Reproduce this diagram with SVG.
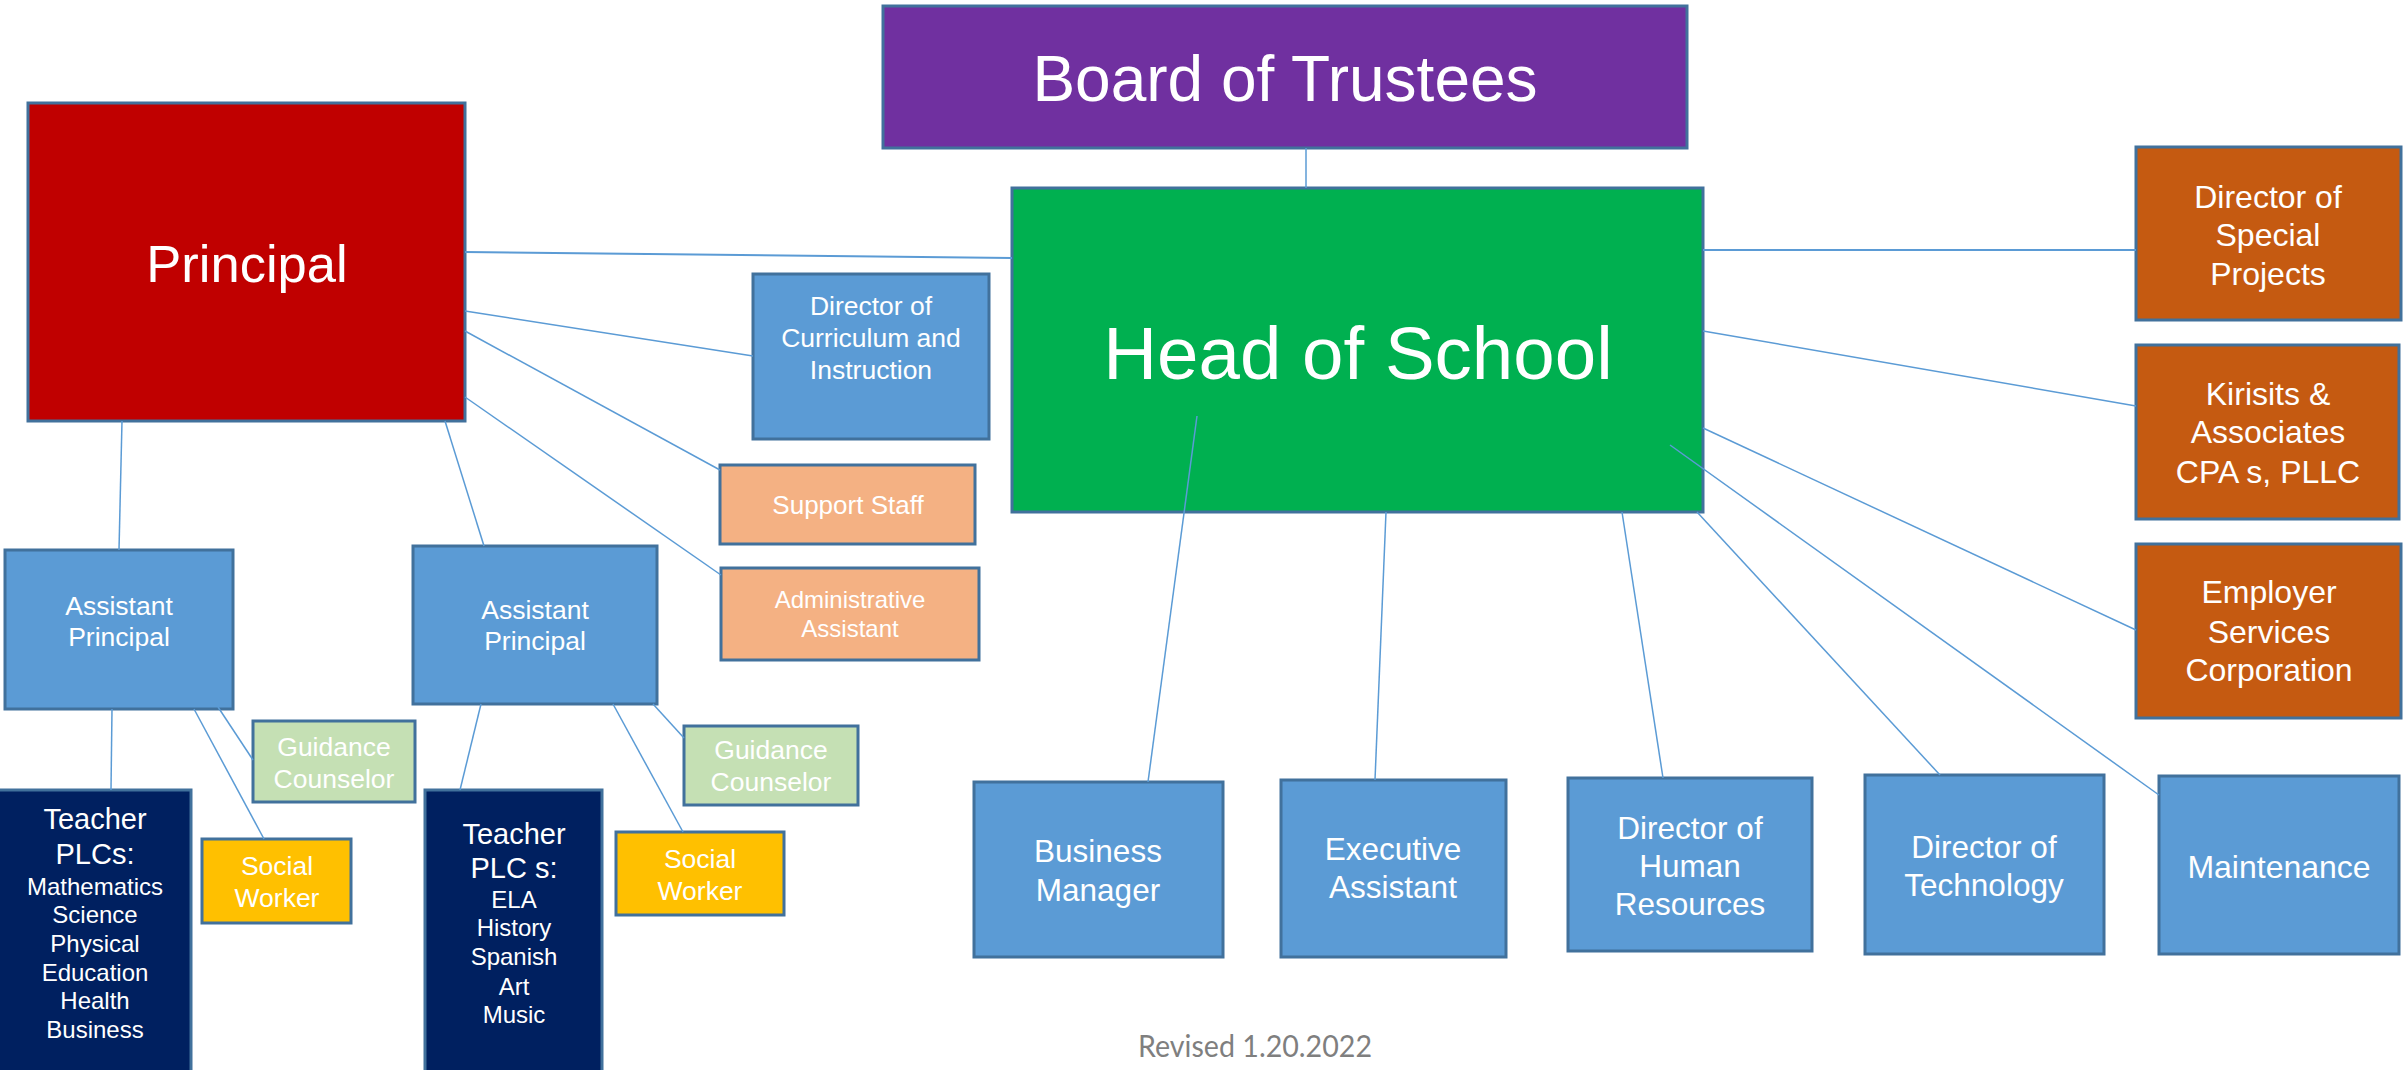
<svg xmlns="http://www.w3.org/2000/svg" width="2407" height="1070" viewBox="0 0 2407 1070">
<style>
  .box { stroke: #41719C; stroke-width: 3; }
  .t { font-family: "Liberation Sans", Arial, sans-serif; fill: #FFFFFF; text-anchor: middle; }
  .conn line { stroke: #5B9BD5; stroke-width: 1.5; fill: none; }
  .purple { fill: #7030A0; }
  .red { fill: #C00000; }
  .green { fill: #00B050; }
  .blue { fill: #5B9BD5; }
  .orange { fill: #C55A11; }
  .peach { fill: #F4B183; }
  .lgreen { fill: #C5E0B4; }
  .gold { fill: #FFC000; }
  .navy { fill: #002060; }
</style>
<rect width="2407" height="1070" fill="#FFFFFF"/>

<g id="board">
  <rect class="box purple" x="883" y="6" width="804" height="142"/>
  <text class="t" x="1285" y="101" font-size="64">Board of Trustees</text>
</g>

<g id="principal">
  <rect class="box red" x="28" y="103" width="437" height="318"/>
  <text class="t" x="247" y="282" font-size="52.5">Principal</text>
</g>

<g id="head-of-school">
  <rect class="box green" x="1012" y="188" width="691" height="324"/>
  <text class="t" x="1358" y="379" font-size="74.5">Head of School</text>
</g>

<g id="director-curriculum">
  <rect class="box blue" x="753" y="274" width="236" height="165"/>
  <text class="t" font-size="26.5"><tspan x="871" y="315">Director of</tspan><tspan x="871" y="347">Curriculum and</tspan><tspan x="871" y="379">Instruction</tspan></text>
</g>

<g id="support-staff">
  <rect class="box peach" x="720" y="465" width="255" height="79"/>
  <text class="t" x="848" y="514" font-size="26">Support Staff</text>
</g>

<g id="administrative-assistant">
  <rect class="box peach" x="721" y="568" width="258" height="92"/>
  <text class="t" font-size="24"><tspan x="850" y="608">Administrative</tspan><tspan x="850" y="637">Assistant</tspan></text>
</g>

<g id="assistant-principal-1">
  <rect class="box blue" x="5" y="550" width="228" height="159"/>
  <text class="t" font-size="26.5"><tspan x="119" y="615">Assistant</tspan><tspan x="119" y="646">Principal</tspan></text>
</g>

<g id="assistant-principal-2">
  <rect class="box blue" x="413" y="546" width="244" height="158"/>
  <text class="t" font-size="26.5"><tspan x="535" y="619">Assistant</tspan><tspan x="535" y="650">Principal</tspan></text>
</g>

<g id="teacher-plcs-1">
  <rect class="box navy" x="-2" y="790" width="193" height="290"/>
  <text class="t" font-size="29"><tspan x="95" y="829">Teacher</tspan><tspan x="95" y="864">PLCs:</tspan></text>
  <text class="t" font-size="24"><tspan x="95" y="895">Mathematics</tspan><tspan x="95" y="923">Science</tspan><tspan x="95" y="952">Physical</tspan><tspan x="95" y="981">Education</tspan><tspan x="95" y="1009">Health</tspan><tspan x="95" y="1038">Business</tspan></text>
</g>

<g id="teacher-plcs-2">
  <rect class="box navy" x="425" y="790" width="177" height="290"/>
  <text class="t" font-size="29"><tspan x="514" y="844">Teacher</tspan><tspan x="514" y="878">PLC s:</tspan></text>
  <text class="t" font-size="24"><tspan x="514" y="908">ELA</tspan><tspan x="514" y="936">History</tspan><tspan x="514" y="965">Spanish</tspan><tspan x="514" y="995">Art</tspan><tspan x="514" y="1023">Music</tspan></text>
</g>

<g id="guidance-counselor-1">
  <rect class="box lgreen" x="253" y="721" width="162" height="81"/>
  <text class="t" font-size="26.5"><tspan x="334" y="756">Guidance</tspan><tspan x="334" y="788">Counselor</tspan></text>
</g>

<g id="social-worker-1">
  <rect class="box gold" x="202" y="839" width="149" height="84"/>
  <text class="t" font-size="26.5"><tspan x="277" y="875">Social</tspan><tspan x="277" y="907">Worker</tspan></text>
</g>

<g id="guidance-counselor-2">
  <rect class="box lgreen" x="684" y="726" width="174" height="79"/>
  <text class="t" font-size="26.5"><tspan x="771" y="759">Guidance</tspan><tspan x="771" y="791">Counselor</tspan></text>
</g>

<g id="social-worker-2">
  <rect class="box gold" x="616" y="832" width="168" height="83"/>
  <text class="t" font-size="26.5"><tspan x="700" y="868">Social</tspan><tspan x="700" y="900">Worker</tspan></text>
</g>

<g id="director-special-projects">
  <rect class="box orange" x="2136" y="147" width="265" height="173"/>
  <text class="t" font-size="32"><tspan x="2268" y="208">Director of</tspan><tspan x="2268" y="246">Special</tspan><tspan x="2268" y="285">Projects</tspan></text>
</g>

<g id="kirisits">
  <rect class="box orange" x="2136" y="345" width="263" height="174"/>
  <text class="t" font-size="32"><tspan x="2268" y="405">Kirisits &amp;</tspan><tspan x="2268" y="443">Associates</tspan><tspan x="2268" y="483">CPA s, PLLC</tspan></text>
</g>

<g id="employer-services">
  <rect class="box orange" x="2136" y="544" width="265" height="174"/>
  <text class="t" font-size="32"><tspan x="2269" y="603">Employer</tspan><tspan x="2269" y="643">Services</tspan><tspan x="2269" y="681">Corporation</tspan></text>
</g>

<g id="business-manager">
  <rect class="box blue" x="974" y="782" width="249" height="175"/>
  <text class="t" font-size="31.5"><tspan x="1098" y="862">Business</tspan><tspan x="1098" y="901">Manager</tspan></text>
</g>

<g id="executive-assistant">
  <rect class="box blue" x="1281" y="780" width="225" height="177"/>
  <text class="t" font-size="31.5"><tspan x="1393" y="860">Executive</tspan><tspan x="1393" y="898">Assistant</tspan></text>
</g>

<g id="director-hr">
  <rect class="box blue" x="1568" y="778" width="244" height="173"/>
  <text class="t" font-size="31.5"><tspan x="1690" y="839">Director of</tspan><tspan x="1690" y="877">Human</tspan><tspan x="1690" y="915">Resources</tspan></text>
</g>

<g id="director-technology">
  <rect class="box blue" x="1865" y="775" width="239" height="179"/>
  <text class="t" font-size="31.5"><tspan x="1984" y="858">Director of</tspan><tspan x="1984" y="896">Technology</tspan></text>
</g>

<g id="maintenance">
  <rect class="box blue" x="2159" y="776" width="240" height="178"/>
  <text class="t" x="2279" y="878" font-size="32">Maintenance</text>
</g>

<g id="connectors" class="conn">
  <line x1="1306" y1="148" x2="1306" y2="188"/>
  <line x1="465" y1="252" x2="1012" y2="258" style="stroke-width:2"/>
  <line x1="465" y1="311" x2="753" y2="356"/>
  <line x1="465" y1="331" x2="720" y2="470"/>
  <line x1="465" y1="397" x2="721" y2="575"/>
  <line x1="122" y1="421" x2="119" y2="550"/>
  <line x1="445" y1="421" x2="484" y2="546"/>
  <line x1="112" y1="709" x2="111" y2="790"/>
  <line x1="218" y1="707" x2="253" y2="760"/>
  <line x1="194" y1="709" x2="264" y2="839"/>
  <line x1="481" y1="704" x2="460" y2="790"/>
  <line x1="653" y1="704" x2="684" y2="738"/>
  <line x1="613" y1="704" x2="683" y2="832"/>
  <line x1="1703" y1="250" x2="2136" y2="250" style="stroke-width:2"/>
  <line x1="1703" y1="331" x2="2136" y2="406"/>
  <line x1="1703" y1="428" x2="2136" y2="630"/>
  <line x1="1197" y1="416" x2="1148" y2="782"/>
  <line x1="1386" y1="512" x2="1375" y2="780"/>
  <line x1="1622" y1="512" x2="1663" y2="778"/>
  <line x1="1697" y1="512" x2="1940" y2="775"/>
  <line x1="1670" y1="445" x2="2159" y2="795"/>
</g>

<text x="1255" y="1057" font-family="Lato, 'Open Sans', sans-serif" font-size="30" fill="#7F7F7F" text-anchor="middle" textLength="234" lengthAdjust="spacingAndGlyphs">Revised 1.20.2022</text>
</svg>
